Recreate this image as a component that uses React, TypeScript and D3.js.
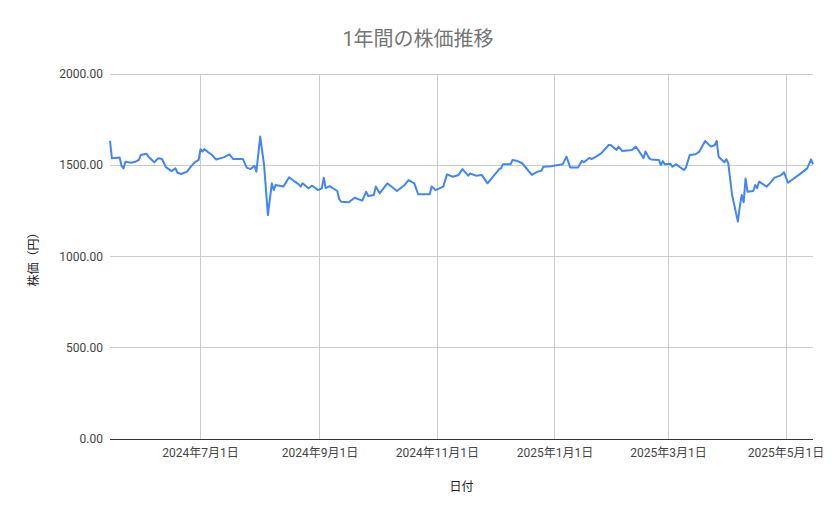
import { useEffect, useRef } from "react";
import * as d3 from "d3";

// 日付と終値
const dates = [
  "2024-05-15", "2024-05-16", "2024-05-20", "2024-05-21", "2024-05-22", "2024-05-23",
  "2024-05-26", "2024-05-28", "2024-05-30", "2024-05-31", "2024-06-03", "2024-06-04",
  "2024-06-07", "2024-06-09", "2024-06-11", "2024-06-13", "2024-06-16", "2024-06-18",
  "2024-06-19", "2024-06-21", "2024-06-24", "2024-06-26", "2024-06-28", "2024-06-30",
  "2024-07-01", "2024-07-02", "2024-07-03", "2024-07-05", "2024-07-07", "2024-07-09",
  "2024-07-13", "2024-07-16", "2024-07-18", "2024-07-23", "2024-07-25", "2024-07-27",
  "2024-07-29", "2024-07-30", "2024-08-01", "2024-08-03", "2024-08-05", "2024-08-07",
  "2024-08-08", "2024-08-09", "2024-08-13", "2024-08-16", "2024-08-19", "2024-08-21",
  "2024-08-22", "2024-08-23", "2024-08-26", "2024-08-28", "2024-08-31", "2024-09-02",
  "2024-09-03", "2024-09-04", "2024-09-06", "2024-09-10", "2024-09-11", "2024-09-12",
  "2024-09-16", "2024-09-19", "2024-09-23", "2024-09-25", "2024-09-26", "2024-09-29",
  "2024-09-30", "2024-10-02", "2024-10-06", "2024-10-11", "2024-10-15", "2024-10-17",
  "2024-10-20", "2024-10-22", "2024-10-28", "2024-10-29", "2024-10-31", "2024-11-04",
  "2024-11-06", "2024-11-09", "2024-11-12", "2024-11-14", "2024-11-17", "2024-11-18",
  "2024-11-21", "2024-11-24", "2024-11-27", "2024-12-03", "2024-12-04", "2024-12-05",
  "2024-12-09", "2024-12-10", "2024-12-12", "2024-12-15", "2024-12-20", "2024-12-23",
  "2024-12-25", "2024-12-26", "2024-12-30", "2025-01-05", "2025-01-07", "2025-01-09",
  "2025-01-13", "2025-01-15", "2025-01-16", "2025-01-19", "2025-01-20", "2025-01-23",
  "2025-01-25", "2025-01-29", "2025-01-30", "2025-02-02", "2025-02-03", "2025-02-05",
  "2025-02-10", "2025-02-12", "2025-02-15", "2025-02-16", "2025-02-17", "2025-02-19",
  "2025-02-20", "2025-02-24", "2025-02-25", "2025-02-26", "2025-02-27", "2025-03-02",
  "2025-03-03", "2025-03-05", "2025-03-07", "2025-03-09", "2025-03-10", "2025-03-12",
  "2025-03-15", "2025-03-17", "2025-03-20", "2025-03-23", "2025-03-25", "2025-03-26",
  "2025-03-27", "2025-03-30", "2025-03-31", "2025-04-01", "2025-04-03", "2025-04-06",
  "2025-04-07", "2025-04-08", "2025-04-09", "2025-04-10", "2025-04-11", "2025-04-14",
  "2025-04-15", "2025-04-16", "2025-04-17", "2025-04-21", "2025-04-23", "2025-04-25",
  "2025-04-28", "2025-04-30", "2025-05-02", "2025-05-08", "2025-05-12", "2025-05-14",
  "2025-05-15",
];

const prices = [
  1633, 1538, 1543, 1497, 1483, 1519,
  1514, 1519, 1530, 1556, 1563, 1547,
  1516, 1538, 1534, 1490, 1468, 1483,
  1459, 1452, 1465, 1492, 1516, 1529,
  1588, 1575, 1589, 1571, 1556, 1532,
  1543, 1560, 1534, 1534, 1487, 1479,
  1497, 1465, 1657, 1501, 1227, 1401,
  1364, 1392, 1383, 1434, 1410, 1395,
  1383, 1401, 1374, 1388, 1364, 1374,
  1432, 1374, 1386, 1359, 1315, 1300,
  1297, 1322, 1306, 1355, 1332, 1337,
  1383, 1346, 1401, 1359, 1392, 1419,
  1401, 1341, 1341, 1383, 1364, 1383,
  1450, 1437, 1447, 1479, 1443, 1455,
  1443, 1447, 1401, 1478, 1483, 1505,
  1505, 1529, 1525, 1511, 1447, 1465,
  1470, 1492, 1494, 1505, 1547, 1487,
  1487, 1525, 1516, 1541, 1534, 1551,
  1565, 1611, 1611, 1584, 1602, 1578,
  1584, 1602, 1556, 1538, 1575, 1538,
  1532, 1529, 1501, 1523, 1505, 1508,
  1492, 1505, 1489, 1474, 1487, 1556,
  1560, 1575, 1633, 1602, 1611, 1633,
  1547, 1516, 1534, 1511, 1337, 1191,
  1273, 1337, 1297, 1428, 1355, 1359,
  1392, 1374, 1410, 1383, 1406, 1432,
  1443, 1461, 1404, 1450, 1483, 1532,
  1505,
];

const yTicks = [0, 500, 1000, 1500, 2000];
const xTickDates = ["2024-07-01", "2024-09-01", "2024-11-01", "2025-01-01", "2025-03-01", "2025-05-01"];

const parse = d3.timeParse("%Y-%m-%d");

export default function App() {
  const svgRef = useRef<SVGSVGElement>(null);

  useEffect(() => {
    if (!svgRef.current) return;
    const svg = d3.select(svgRef.current);
    svg.selectAll("*").remove();

    const width = 839;
    const height = 519;
    const margin = { top: 74, right: 26, bottom: 80, left: 110 };
    const innerWidth = width - margin.left - margin.right;
    const innerHeight = height - margin.top - margin.bottom;
    const font = "Roboto, 'Noto Sans CJK JP', sans-serif";

    const data = dates.map((d, i) => ({ date: parse(d)!, value: prices[i] }));

    const x = d3
      .scaleTime()
      .domain(d3.extent(data, (d) => d.date) as [Date, Date])
      .range([0, innerWidth]);
    const y = d3.scaleLinear().domain([0, 2000]).range([innerHeight, 0]);

    svg.append("rect").attr("width", width).attr("height", height).attr("fill", "#fff");

    const g = svg.append("g").attr("transform", `translate(${margin.left},${margin.top})`);

    // 横グリッド
    g.selectAll("line.hgrid")
      .data(yTicks)
      .join("line")
      .attr("x1", 0)
      .attr("x2", innerWidth)
      .attr("y1", (d) => y(d))
      .attr("y2", (d) => y(d))
      .attr("stroke", "#cccccc")
      .attr("stroke-width", 1)
      .attr("shape-rendering", "crispEdges");

    // 縦グリッド
    const xTicks = xTickDates.map((d) => parse(d)!);
    g.selectAll("line.vgrid")
      .data(xTicks)
      .join("line")
      .attr("x1", (d) => x(d))
      .attr("x2", (d) => x(d))
      .attr("y1", 0)
      .attr("y2", innerHeight)
      .attr("stroke", "#cccccc")
      .attr("stroke-width", 1)
      .attr("shape-rendering", "crispEdges");

    // 基線
    g.append("line")
      .attr("x1", 0)
      .attr("x2", innerWidth)
      .attr("y1", y(0))
      .attr("y2", y(0))
      .attr("stroke", "#333333")
      .attr("stroke-width", 1)
      .attr("shape-rendering", "crispEdges");

    // y 軸ラベル
    g.selectAll("text.ytick")
      .data(yTicks)
      .join("text")
      .attr("x", -7)
      .attr("y", (d) => y(d))
      .attr("dy", "0.35em")
      .attr("text-anchor", "end")
      .attr("font-family", font)
      .attr("font-size", 12)
      .attr("fill", "#444444")
      .text((d) => d3.format(".2f")(d));

    // x 軸ラベル
    const fmt = d3.timeFormat("%Y年%-m月%-d日");
    g.selectAll("text.xtick")
      .data(xTicks)
      .join("text")
      .attr("x", (d) => x(d))
      .attr("y", innerHeight + 18)
      .attr("text-anchor", "middle")
      .attr("font-family", font)
      .attr("font-size", 12)
      .attr("fill", "#444444")
      .text((d) => fmt(d));

    const line = d3
      .line<(typeof data)[0]>()
      .x((d) => x(d.date))
      .y((d) => y(d.value));

    g.append("path")
      .datum(data)
      .attr("fill", "none")
      .attr("stroke", "#4285f4")
      .attr("stroke-width", 2)
      .attr("stroke-linejoin", "round")
      .attr("d", line);

    // タイトル
    svg
      .append("text")
      .attr("x", 418)
      .attr("y", 46)
      .attr("text-anchor", "middle")
      .attr("font-family", font)
      .attr("font-size", 20)
      .attr("fill", "#757575")
      .text("1年間の株価推移");

    svg
      .append("text")
      .attr("x", margin.left + innerWidth / 2)
      .attr("y", 491)
      .attr("text-anchor", "middle")
      .attr("font-family", font)
      .attr("font-size", 12)
      .attr("fill", "#222222")
      .text("日付");

    svg
      .append("text")
      .attr("transform", `translate(38,${margin.top + innerHeight / 2}) rotate(-90)`)
      .attr("text-anchor", "middle")
      .attr("font-family", font)
      .attr("font-size", 12)
      .attr("fill", "#222222")
      .text("株価（円）");
  }, []);

  return (
    <div style={{ position: "fixed", left: 0, top: 0 }}>
      <svg ref={svgRef} width={839} height={519} style={{ display: "block" }} />
    </div>
  );
}
